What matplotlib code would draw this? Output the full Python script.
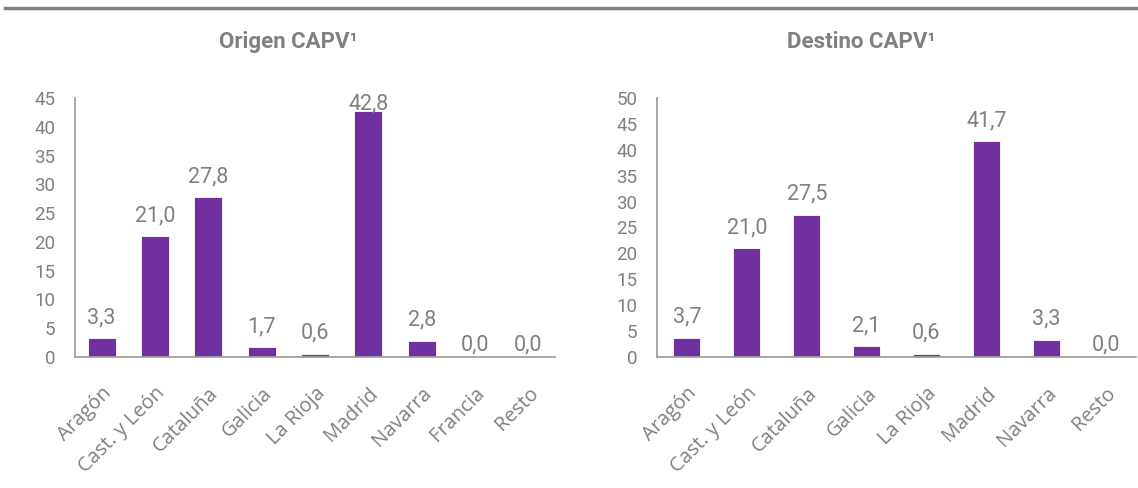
import matplotlib.pyplot as plt
from matplotlib.lines import Line2D

# Porcentajes por comunidad (origen / destino CAPV)
origen_cats = ["Aragón", "Cast. y León", "Cataluña", "Galicia", "La Rioja",
               "Madrid", "Navarra", "Francia", "Resto"]
origen_vals = [3.3, 21.0, 27.8, 1.7, 0.6, 42.8, 2.8, 0.0, 0.0]

destino_cats = ["Aragón", "Cast. y León", "Cataluña", "Galicia", "La Rioja",
                "Madrid", "Navarra", "Resto"]
destino_vals = [3.7, 21.0, 27.5, 2.1, 0.6, 41.7, 3.3, 0.0]

PURPLE = "#7030a0"
GREY = "#808080"
W, H = 1138, 488
AX_H = 259  # alto del area de barras en px


def fmt(v):
    return f"{v:.1f}".replace(".", ",")


def bar_panel(ax, cats, vals, ymax, width):
    x = range(len(cats))
    ax.bar(x, vals, width=width, color=PURPLE, edgecolor="white", linewidth=0.6, zorder=2)
    px = AX_H / ymax
    for xi, v in zip(x, vals):
        # etiqueta sobre la barra, sin salirse del area del grafico
        gap = 15 if v > 0 else 7
        base = min(v * px + gap, AX_H - 11)
        ax.annotate(fmt(v), (xi, 0), xytext=(0, base * 0.72), textcoords="offset points",
                    ha="center", va="baseline", color=GREY, fontsize=15.5,
                    family="Roboto", annotation_clip=False, zorder=3)
    ax.set_xlim(-0.5, len(cats) - 0.5)
    ax.set_ylim(0, ymax)
    ax.set_yticks(range(0, ymax + 1, 5))
    ax.set_xticks(list(x))
    ax.set_xticklabels(cats, rotation=45, ha="right", rotation_mode="anchor",
                       family="Open Sans", fontsize=14.5, color=GREY)
    ax.tick_params(axis="x", length=0, pad=19)
    ax.tick_params(axis="y", length=0, pad=14, labelsize=13.5, labelcolor=GREY)
    for lab in ax.get_yticklabels():
        lab.set_family("Roboto")
    for s in ("top", "right"):
        ax.spines[s].set_visible(False)
    for s in ("left", "bottom"):
        ax.spines[s].set_color("#a0a0a0")
        ax.spines[s].set_linewidth(1.3)
    ax.set_facecolor("none")


fig = plt.figure(figsize=(W / 100, H / 100), dpi=100)

ax1 = fig.add_axes([75 / W, 1 - 357 / H, 480 / W, AX_H / H])
bar_panel(ax1, origen_cats, origen_vals, 45, 0.52)

ax2 = fig.add_axes([657 / W, 1 - 357 / H, 479 / W, AX_H / H])
bar_panel(ax2, destino_cats, destino_vals, 50, 0.45)

# titulos de cada panel
fig.text(288 / W, 1 - 42 / H, "Origen CAPV¹", ha="center", va="center",
         family="Roboto", fontweight="bold", fontsize=16, color=GREY)
fig.text(861 / W, 1 - 42 / H, "Destino CAPV¹", ha="center", va="center",
         family="Roboto", fontweight="bold", fontsize=16, color=GREY)

# linea gris superior
fig.add_artist(Line2D([5 / W, 1], [1 - 8 / H, 1 - 8 / H], color=GREY, linewidth=2.5,
                      transform=fig.transFigure))

fig.savefig("out.png", dpi=100)
